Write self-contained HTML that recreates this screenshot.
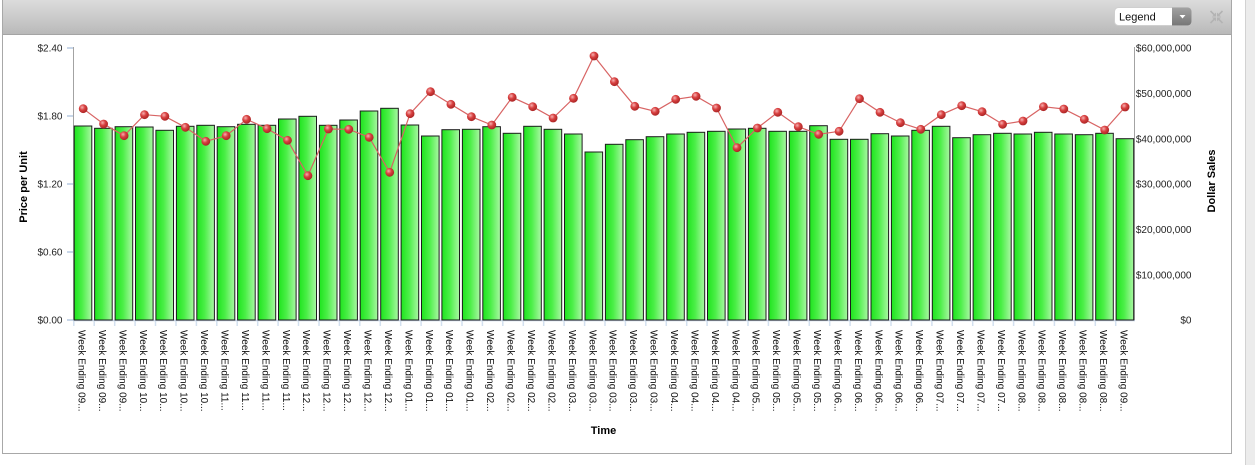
<!DOCTYPE html>
<html><head><meta charset="utf-8"><style>
html,body{margin:0;padding:0;background:#fff;width:1255px;height:465px;overflow:hidden}
svg{display:block}
.t{font-family:"Liberation Sans",Arial,sans-serif;font-size:10px;fill:#222}
.lb{font-family:"Liberation Sans",Arial,sans-serif;font-size:10px;fill:#111}
.ti{font-family:"Liberation Sans",Arial,sans-serif;font-size:11px;font-weight:bold;fill:#000}
</style></head><body>
<svg width="1255" height="465" viewBox="0 0 1255 465" xmlns="http://www.w3.org/2000/svg">
<defs>
<linearGradient id="hd" x1="0" y1="0" x2="0" y2="1"><stop offset="0" stop-color="#dcdcdc"/><stop offset="1" stop-color="#b9b9b9"/></linearGradient>
<linearGradient id="btn" x1="0" y1="0" x2="0" y2="1"><stop offset="0" stop-color="#a2a2a2"/><stop offset="1" stop-color="#767676"/></linearGradient>
<linearGradient id="g" x1="0" y1="0" x2="1" y2="0"><stop offset="0" stop-color="#1ee41e"/><stop offset="0.45" stop-color="#4cef48"/><stop offset="1" stop-color="#aaf7a4"/></linearGradient>
<radialGradient id="m" cx="0.38" cy="0.35" r="0.7"><stop offset="0" stop-color="#f7b0b0"/><stop offset="0.45" stop-color="#d84040"/><stop offset="1" stop-color="#a52222"/></radialGradient>
</defs>
<!-- right strip -->
<rect x="1245" y="0" width="10" height="465" fill="#ececec"/>
<line x1="1245.5" y1="0" x2="1245.5" y2="465" stroke="#d2d2d2"/>
<!-- header -->
<rect x="2" y="0" width="1230" height="34" fill="url(#hd)"/>
<line x1="2" y1="34.5" x2="1232" y2="34.5" stroke="#a4a4a4"/>
<line x1="2.5" y1="0" x2="2.5" y2="454" stroke="#a8a8a8"/>
<line x1="1231.5" y1="0" x2="1231.5" y2="454" stroke="#a8a8a8"/>
<line x1="2" y1="453.5" x2="1232" y2="453.5" stroke="#a8a8a8"/>
<!-- legend dropdown -->
<rect x="1114.5" y="7.5" width="77" height="18" rx="4" fill="#fff" stroke="#cfcfcf"/>
<rect x="1172" y="7.5" width="19.5" height="18" rx="4" fill="url(#btn)"/>
<rect x="1172" y="7.5" width="6" height="18" fill="url(#btn)"/>
<polygon points="1179.5,15 1185.5,15 1182.5,18.5" fill="#fff"/>
<text x="1119" y="20.5" style="font-family:'Liberation Sans',Arial,sans-serif;font-size:11px;fill:#111">Legend</text>
<!-- collapse icon -->
<g fill="#b3b3b3" stroke="#b3b3b3" stroke-width="1.6">
<line x1="1210.5" y1="11" x2="1214.5" y2="15"/><polygon points="1216,16.5 1216,12.5 1212,16.5" stroke="none"/>
<line x1="1222.5" y1="11" x2="1218.5" y2="15"/><polygon points="1217,16.5 1217,12.5 1221,16.5" stroke="none"/>
<line x1="1210.5" y1="23" x2="1214.5" y2="19"/><polygon points="1216,17.5 1216,21.5 1212,17.5" stroke="none"/>
<line x1="1222.5" y1="23" x2="1218.5" y2="19"/><polygon points="1217,17.5 1217,21.5 1221,17.5" stroke="none"/>
</g>
<!-- axes -->
<g stroke="#c9d7e9" stroke-width="2">
<line x1="67" y1="48" x2="73" y2="48"/><line x1="67" y1="116" x2="73" y2="116"/><line x1="67" y1="184" x2="73" y2="184"/><line x1="67" y1="252" x2="73" y2="252"/><line x1="67" y1="320" x2="73" y2="320"/>
</g>
<line x1="73" y1="320.5" x2="1135" y2="320.5" stroke="#c3d1e3" stroke-width="1.5"/>
<g stroke="#d3e0ef" stroke-width="1.5">
<line x1="73.8" y1="321" x2="73.8" y2="326"/><line x1="94.2" y1="321" x2="94.2" y2="326"/><line x1="114.7" y1="321" x2="114.7" y2="326"/><line x1="135.1" y1="321" x2="135.1" y2="326"/><line x1="155.5" y1="321" x2="155.5" y2="326"/><line x1="176" y1="321" x2="176" y2="326"/><line x1="196.4" y1="321" x2="196.4" y2="326"/><line x1="216.8" y1="321" x2="216.8" y2="326"/><line x1="237.2" y1="321" x2="237.2" y2="326"/><line x1="257.7" y1="321" x2="257.7" y2="326"/><line x1="278.1" y1="321" x2="278.1" y2="326"/><line x1="298.5" y1="321" x2="298.5" y2="326"/><line x1="319" y1="321" x2="319" y2="326"/><line x1="339.4" y1="321" x2="339.4" y2="326"/><line x1="359.8" y1="321" x2="359.8" y2="326"/><line x1="380.3" y1="321" x2="380.3" y2="326"/><line x1="400.7" y1="321" x2="400.7" y2="326"/><line x1="421.1" y1="321" x2="421.1" y2="326"/><line x1="441.5" y1="321" x2="441.5" y2="326"/><line x1="462" y1="321" x2="462" y2="326"/><line x1="482.4" y1="321" x2="482.4" y2="326"/><line x1="502.8" y1="321" x2="502.8" y2="326"/><line x1="523.3" y1="321" x2="523.3" y2="326"/><line x1="543.7" y1="321" x2="543.7" y2="326"/><line x1="564.1" y1="321" x2="564.1" y2="326"/><line x1="584.6" y1="321" x2="584.6" y2="326"/><line x1="605" y1="321" x2="605" y2="326"/><line x1="625.4" y1="321" x2="625.4" y2="326"/><line x1="645.8" y1="321" x2="645.8" y2="326"/><line x1="666.3" y1="321" x2="666.3" y2="326"/><line x1="686.7" y1="321" x2="686.7" y2="326"/><line x1="707.1" y1="321" x2="707.1" y2="326"/><line x1="727.6" y1="321" x2="727.6" y2="326"/><line x1="748" y1="321" x2="748" y2="326"/><line x1="768.4" y1="321" x2="768.4" y2="326"/><line x1="788.9" y1="321" x2="788.9" y2="326"/><line x1="809.3" y1="321" x2="809.3" y2="326"/><line x1="829.7" y1="321" x2="829.7" y2="326"/><line x1="850.1" y1="321" x2="850.1" y2="326"/><line x1="870.6" y1="321" x2="870.6" y2="326"/><line x1="891" y1="321" x2="891" y2="326"/><line x1="911.4" y1="321" x2="911.4" y2="326"/><line x1="931.9" y1="321" x2="931.9" y2="326"/><line x1="952.3" y1="321" x2="952.3" y2="326"/><line x1="972.7" y1="321" x2="972.7" y2="326"/><line x1="993.2" y1="321" x2="993.2" y2="326"/><line x1="1013.6" y1="321" x2="1013.6" y2="326"/><line x1="1034" y1="321" x2="1034" y2="326"/><line x1="1054.4" y1="321" x2="1054.4" y2="326"/><line x1="1074.9" y1="321" x2="1074.9" y2="326"/><line x1="1095.3" y1="321" x2="1095.3" y2="326"/><line x1="1115.7" y1="321" x2="1115.7" y2="326"/>
</g>
<line x1="73.5" y1="47" x2="73.5" y2="320" stroke="#a3a3a3"/>
<line x1="1134.5" y1="47" x2="1134.5" y2="320" stroke="#a3a3a3"/>
<!-- left tick labels -->
<g class="t" text-anchor="end">
<text x="62.5" y="51.6">$2.40</text><text x="62.5" y="119.6">$1.80</text><text x="62.5" y="187.6">$1.20</text><text x="62.5" y="255.6">$0.60</text><text x="62.5" y="323.6">$0.00</text>
</g>
<!-- right tick labels -->
<g class="t" text-anchor="end">
<text x="1191.5" y="51.6">$60,000,000</text><text x="1191.5" y="96.9">$50,000,000</text><text x="1191.5" y="142.3">$40,000,000</text><text x="1191.5" y="187.6">$30,000,000</text><text x="1191.5" y="232.9">$20,000,000</text><text x="1191.5" y="278.3">$10,000,000</text><text x="1191.5" y="323.6">$0</text>
</g>
<!-- axis titles -->
<text class="ti" text-anchor="middle" transform="translate(27,187) rotate(-90)">Price per Unit</text>
<text class="ti" text-anchor="middle" transform="translate(1215,181) rotate(-90)">Dollar Sales</text>
<text class="ti" x="603.5" y="434" text-anchor="middle">Time</text>
<!-- bars -->
<g fill="url(#g)" stroke="#1c1c1c" stroke-width="1">
<rect x="74.2" y="126" width="17.6" height="194"/>
<rect x="94.6" y="128.3" width="17.6" height="191.7"/>
<rect x="115.1" y="126.7" width="17.6" height="193.3"/>
<rect x="135.5" y="127" width="17.6" height="193"/>
<rect x="155.9" y="130.3" width="17.6" height="189.7"/>
<rect x="176.4" y="126.3" width="17.6" height="193.7"/>
<rect x="196.8" y="125.3" width="17.6" height="194.7"/>
<rect x="217.2" y="126.7" width="17.6" height="193.3"/>
<rect x="237.6" y="124.3" width="17.6" height="195.7"/>
<rect x="258.1" y="125.3" width="17.6" height="194.7"/>
<rect x="278.5" y="119" width="17.6" height="201"/>
<rect x="298.9" y="116.3" width="17.6" height="203.7"/>
<rect x="319.4" y="125.3" width="17.6" height="194.7"/>
<rect x="339.8" y="120" width="17.6" height="200"/>
<rect x="360.2" y="111" width="17.6" height="209"/>
<rect x="380.7" y="108.3" width="17.6" height="211.7"/>
<rect x="401.1" y="125" width="17.6" height="195"/>
<rect x="421.5" y="136" width="17.6" height="184"/>
<rect x="441.9" y="129.7" width="17.6" height="190.3"/>
<rect x="462.4" y="129.3" width="17.6" height="190.7"/>
<rect x="482.8" y="126.7" width="17.6" height="193.3"/>
<rect x="503.2" y="133.3" width="17.6" height="186.7"/>
<rect x="523.7" y="126.3" width="17.6" height="193.7"/>
<rect x="544.1" y="129.3" width="17.6" height="190.7"/>
<rect x="564.5" y="134" width="17.6" height="186"/>
<rect x="585" y="152" width="17.6" height="168"/>
<rect x="605.4" y="144.3" width="17.6" height="175.7"/>
<rect x="625.8" y="139.7" width="17.6" height="180.3"/>
<rect x="646.2" y="136.7" width="17.6" height="183.3"/>
<rect x="666.7" y="134" width="17.6" height="186"/>
<rect x="687.1" y="132.3" width="17.6" height="187.7"/>
<rect x="707.5" y="131.3" width="17.6" height="188.7"/>
<rect x="728" y="129" width="17.6" height="191"/>
<rect x="748.4" y="128.3" width="17.6" height="191.7"/>
<rect x="768.8" y="131.3" width="17.6" height="188.7"/>
<rect x="789.3" y="131.3" width="17.6" height="188.7"/>
<rect x="809.7" y="125.7" width="17.6" height="194.3"/>
<rect x="830.1" y="139.3" width="17.6" height="180.7"/>
<rect x="850.5" y="139.3" width="17.6" height="180.7"/>
<rect x="871" y="133.7" width="17.6" height="186.3"/>
<rect x="891.4" y="136" width="17.6" height="184"/>
<rect x="911.8" y="130.3" width="17.6" height="189.7"/>
<rect x="932.3" y="126.3" width="17.6" height="193.7"/>
<rect x="952.7" y="137.7" width="17.6" height="182.3"/>
<rect x="973.1" y="134.7" width="17.6" height="185.3"/>
<rect x="993.6" y="133.3" width="17.6" height="186.7"/>
<rect x="1014" y="134" width="17.6" height="186"/>
<rect x="1034.4" y="132.3" width="17.6" height="187.7"/>
<rect x="1054.8" y="134" width="17.6" height="186"/>
<rect x="1075.3" y="134.7" width="17.6" height="185.3"/>
<rect x="1095.7" y="133.3" width="17.6" height="186.7"/>
<rect x="1116.1" y="138.7" width="17.6" height="181.3"/>
</g>
<!-- line -->
<polyline fill="none" stroke="#d86464" stroke-width="1.2" points="83.2,108.7 103.6,124 124.1,135.7 144.5,114.7 164.9,116.3 185.4,127.3 205.8,141.3 226.2,135.7 246.6,119.3 267.1,128.7 287.5,140.3 307.9,175.7 328.4,129 348.8,129.3 369.2,137.3 389.7,172.3 410.1,113.7 430.5,91.7 450.9,104.3 471.4,116.7 491.8,125 512.2,97.3 532.7,106.7 553.1,118 573.5,98.3 594,56 614.4,81.7 634.8,106.3 655.2,111.3 675.7,99.3 696.1,96.3 716.5,108 737,147.7 757.4,128 777.8,112.3 798.3,126.7 818.7,134.3 839.1,131.3 859.5,98.7 880,112.3 900.4,122.7 920.8,129.3 941.3,114.7 961.7,105.7 982.1,111.7 1002.6,124.3 1023,121 1043.4,106.7 1063.8,109 1084.3,119.3 1104.7,130 1125.1,107"/>
<g fill="url(#m)">
<circle cx="83.2" cy="108.7" r="4.4"/><circle cx="103.6" cy="124" r="4.4"/><circle cx="124.1" cy="135.7" r="4.4"/><circle cx="144.5" cy="114.7" r="4.4"/><circle cx="164.9" cy="116.3" r="4.4"/><circle cx="185.4" cy="127.3" r="4.4"/><circle cx="205.8" cy="141.3" r="4.4"/><circle cx="226.2" cy="135.7" r="4.4"/><circle cx="246.6" cy="119.3" r="4.4"/><circle cx="267.1" cy="128.7" r="4.4"/><circle cx="287.5" cy="140.3" r="4.4"/><circle cx="307.9" cy="175.7" r="4.4"/><circle cx="328.4" cy="129" r="4.4"/><circle cx="348.8" cy="129.3" r="4.4"/><circle cx="369.2" cy="137.3" r="4.4"/><circle cx="389.7" cy="172.3" r="4.4"/><circle cx="410.1" cy="113.7" r="4.4"/><circle cx="430.5" cy="91.7" r="4.4"/><circle cx="450.9" cy="104.3" r="4.4"/><circle cx="471.4" cy="116.7" r="4.4"/><circle cx="491.8" cy="125" r="4.4"/><circle cx="512.2" cy="97.3" r="4.4"/><circle cx="532.7" cy="106.7" r="4.4"/><circle cx="553.1" cy="118" r="4.4"/><circle cx="573.5" cy="98.3" r="4.4"/><circle cx="594" cy="56" r="4.4"/><circle cx="614.4" cy="81.7" r="4.4"/><circle cx="634.8" cy="106.3" r="4.4"/><circle cx="655.2" cy="111.3" r="4.4"/><circle cx="675.7" cy="99.3" r="4.4"/><circle cx="696.1" cy="96.3" r="4.4"/><circle cx="716.5" cy="108" r="4.4"/><circle cx="737" cy="147.7" r="4.4"/><circle cx="757.4" cy="128" r="4.4"/><circle cx="777.8" cy="112.3" r="4.4"/><circle cx="798.3" cy="126.7" r="4.4"/><circle cx="818.7" cy="134.3" r="4.4"/><circle cx="839.1" cy="131.3" r="4.4"/><circle cx="859.5" cy="98.7" r="4.4"/><circle cx="880" cy="112.3" r="4.4"/><circle cx="900.4" cy="122.7" r="4.4"/><circle cx="920.8" cy="129.3" r="4.4"/><circle cx="941.3" cy="114.7" r="4.4"/><circle cx="961.7" cy="105.7" r="4.4"/><circle cx="982.1" cy="111.7" r="4.4"/><circle cx="1002.6" cy="124.3" r="4.4"/><circle cx="1023" cy="121" r="4.4"/><circle cx="1043.4" cy="106.7" r="4.4"/><circle cx="1063.8" cy="109" r="4.4"/><circle cx="1084.3" cy="119.3" r="4.4"/><circle cx="1104.7" cy="130" r="4.4"/><circle cx="1125.1" cy="107" r="4.4"/>
</g>
<!-- category labels -->
<g class="lb">
<text transform="translate(78.5,330) rotate(90)">Week Ending 09...</text>
<text transform="translate(98.9,330) rotate(90)">Week Ending 09...</text>
<text transform="translate(119.4,330) rotate(90)">Week Ending 09...</text>
<text transform="translate(139.8,330) rotate(90)">Week Ending 10...</text>
<text transform="translate(160.2,330) rotate(90)">Week Ending 10...</text>
<text transform="translate(180.7,330) rotate(90)">Week Ending 10...</text>
<text transform="translate(201.1,330) rotate(90)">Week Ending 10...</text>
<text transform="translate(221.5,330) rotate(90)">Week Ending 11...</text>
<text transform="translate(241.9,330) rotate(90)">Week Ending 11...</text>
<text transform="translate(262.4,330) rotate(90)">Week Ending 11...</text>
<text transform="translate(282.8,330) rotate(90)">Week Ending 11...</text>
<text transform="translate(303.2,330) rotate(90)">Week Ending 12...</text>
<text transform="translate(323.7,330) rotate(90)">Week Ending 12...</text>
<text transform="translate(344.1,330) rotate(90)">Week Ending 12...</text>
<text transform="translate(364.5,330) rotate(90)">Week Ending 12...</text>
<text transform="translate(385,330) rotate(90)">Week Ending 12...</text>
<text transform="translate(405.4,330) rotate(90)">Week Ending 01...</text>
<text transform="translate(425.8,330) rotate(90)">Week Ending 01...</text>
<text transform="translate(446.2,330) rotate(90)">Week Ending 01...</text>
<text transform="translate(466.7,330) rotate(90)">Week Ending 01...</text>
<text transform="translate(487.1,330) rotate(90)">Week Ending 02...</text>
<text transform="translate(507.5,330) rotate(90)">Week Ending 02...</text>
<text transform="translate(528,330) rotate(90)">Week Ending 02...</text>
<text transform="translate(548.4,330) rotate(90)">Week Ending 02...</text>
<text transform="translate(568.8,330) rotate(90)">Week Ending 03...</text>
<text transform="translate(589.3,330) rotate(90)">Week Ending 03...</text>
<text transform="translate(609.7,330) rotate(90)">Week Ending 03...</text>
<text transform="translate(630.1,330) rotate(90)">Week Ending 03...</text>
<text transform="translate(650.5,330) rotate(90)">Week Ending 03...</text>
<text transform="translate(671,330) rotate(90)">Week Ending 04...</text>
<text transform="translate(691.4,330) rotate(90)">Week Ending 04...</text>
<text transform="translate(711.8,330) rotate(90)">Week Ending 04...</text>
<text transform="translate(732.3,330) rotate(90)">Week Ending 04...</text>
<text transform="translate(752.7,330) rotate(90)">Week Ending 05...</text>
<text transform="translate(773.1,330) rotate(90)">Week Ending 05...</text>
<text transform="translate(793.6,330) rotate(90)">Week Ending 05...</text>
<text transform="translate(814,330) rotate(90)">Week Ending 05...</text>
<text transform="translate(834.4,330) rotate(90)">Week Ending 06...</text>
<text transform="translate(854.8,330) rotate(90)">Week Ending 06...</text>
<text transform="translate(875.3,330) rotate(90)">Week Ending 06...</text>
<text transform="translate(895.7,330) rotate(90)">Week Ending 06...</text>
<text transform="translate(916.1,330) rotate(90)">Week Ending 06...</text>
<text transform="translate(936.6,330) rotate(90)">Week Ending 07...</text>
<text transform="translate(957,330) rotate(90)">Week Ending 07...</text>
<text transform="translate(977.4,330) rotate(90)">Week Ending 07...</text>
<text transform="translate(997.9,330) rotate(90)">Week Ending 07...</text>
<text transform="translate(1018.3,330) rotate(90)">Week Ending 08...</text>
<text transform="translate(1038.7,330) rotate(90)">Week Ending 08...</text>
<text transform="translate(1059.1,330) rotate(90)">Week Ending 08...</text>
<text transform="translate(1079.6,330) rotate(90)">Week Ending 08...</text>
<text transform="translate(1100,330) rotate(90)">Week Ending 08...</text>
<text transform="translate(1120.4,330) rotate(90)">Week Ending 09...</text>
</g>
</svg>
</body></html>
